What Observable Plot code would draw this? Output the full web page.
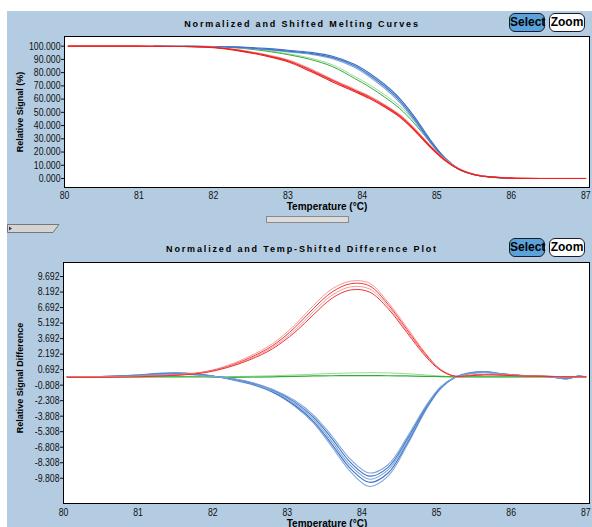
<!DOCTYPE html>
<html><head><meta charset="utf-8">
<script src="https://cdn.jsdelivr.net/npm/d3@7"></script>
<script src="https://cdn.jsdelivr.net/npm/@observablehq/plot@0.6"></script>
<style>
body{margin:0;background:#fff;}
#root{position:relative;width:592px;height:527px;overflow:hidden;font-family:"Liberation Sans",Arial,sans-serif;}
#bg{position:absolute;left:7px;top:11px;right:0;bottom:0;background:#b4cce2;}
.title{position:absolute;font-weight:bold;font-size:9px;letter-spacing:1.85px;white-space:nowrap;transform:translate(-50%,-50%);color:#000;line-height:10px;}
.btn{position:absolute;width:34px;height:17px;border:1px solid #1a1a2a;border-radius:6px;font-weight:bold;font-size:12px;line-height:17px;text-align:center;color:#000;}
.xlab{position:absolute;font-weight:bold;font-size:10px;line-height:10px;transform:translate(-50%,-50%);white-space:nowrap;color:#000;}
.ylab{position:absolute;font-weight:bold;font-size:9px;line-height:10px;transform:translate(-50%,-50%) rotate(-90deg);white-space:nowrap;color:#000;}
.plot{position:absolute;left:0;}
</style></head>
<body>
<div id="root">
  <div id="bg"></div>
  <div class="title" style="left:302px;top:24px;">Normalized and Shifted Melting Curves</div>
  <div class="btn" style="left:509px;top:13px;background:#5aa2dc;">Select</div>
  <div class="btn" style="left:549px;top:13px;background:#fff;">Zoom</div>
  <div id="top" class="plot" style="top:0px;"></div>
  <div class="ylab" style="left:20px;top:112px;">Relative Signal (%)</div>
  <div class="xlab" style="left:327px;top:207px;">Temperature (°C)</div>
  <div style="position:absolute;left:266px;top:216px;width:81px;height:5px;background:#dcdcdc;border:1px solid #8a8a8a;"></div>
  <svg style="position:absolute;left:7px;top:224px;" width="53" height="10"><polygon points="0.5,0.5 52,0.5 46,8.5 0.5,8.5" fill="#d4d4d4" stroke="#777"/><polygon points="2,2.5 5,4.5 2,6.5" fill="#335"/></svg>
  <div class="title" style="left:302px;top:249px;">Normalized and Temp-Shifted Difference Plot</div>
  <div class="btn" style="left:509px;top:238px;background:#5aa2dc;">Select</div>
  <div class="btn" style="left:549px;top:238px;background:#fff;">Zoom</div>
  <div id="bottom" class="plot" style="top:230px;"></div>
  <div class="ylab" style="left:20px;top:378px;">Relative Signal Difference</div>
  <div class="xlab" style="left:327px;top:523.5px;">Temperature (°C)</div>
</div>
<script>
// ---------- data: top panel (Relative Signal %) ----------
const xTicks = [80, 81, 82, 83, 84, 85, 86, 87];
const topYTicks = [0, 10, 20, 30, 40, 50, 60, 70, 80, 90, 100];

const topTRed = [80.05, 81.0, 81.6, 82.0, 82.3, 82.7, 83.0, 83.3, 83.6, 83.9, 84.1, 84.3, 84.5, 84.7, 84.9, 85.1, 85.3, 85.5, 85.7, 86.0, 86.5, 87.0];
const topRed1 = [100, 100, 99.8, 99.2, 97.2, 93.2, 89, 82, 74, 66.5, 61.3, 55, 47.5, 37, 25, 14.5, 7, 3, 1.3, 0.3, 0, 0];
const topRed2 = [100, 100, 99.7, 98.9, 96.8, 92.6, 88.2, 81, 73, 65.6, 60.4, 54, 46.6, 36.2, 24.3, 14, 6.8, 2.9, 1.2, 0.3, 0, 0];
const topRed3 = [100, 100, 99.8, 99.3, 97.5, 93.6, 89.6, 82.8, 74.8, 67.3, 62.1, 55.8, 48.3, 37.8, 25.6, 15, 7.3, 3.1, 1.4, 0.4, 0.1, 0.1];

const topTBlue = [81.2, 81.6, 82.0, 82.3, 82.7, 83.0, 83.3, 83.6, 83.9, 84.1, 84.3, 84.5, 84.7, 84.9, 85.1, 85.3, 85.5, 85.7, 86.0];
const topBlue1 = [100, 99.9, 99.6, 99.2, 97.8, 96.3, 94.6, 91.5, 85, 78, 69.5, 59, 45, 29, 15.5, 7, 3, 1.3, 0.3];
const topBlue2 = [100, 99.9, 99.7, 99.4, 98.3, 96.9, 95.3, 92.4, 86.2, 79.4, 71, 60.6, 46.6, 30.2, 16.2, 7.3, 3.1, 1.3, 0.3];
const topBlue3 = [100, 99.8, 99.4, 98.9, 97.3, 95.7, 93.9, 90.6, 83.9, 76.7, 68.1, 57.5, 43.6, 28, 15, 6.8, 2.9, 1.2, 0.3];

const topTGreen = [81.6, 82.0, 82.3, 82.7, 83.0, 83.3, 83.6, 83.9, 84.1, 84.3, 84.5, 84.7, 84.9, 85.1, 85.3, 85.5, 85.7, 86.0];
const topGreen1 = [100, 99.5, 98.8, 96.3, 93.6, 90, 84.5, 75.5, 69, 61.5, 53, 41.5, 28, 15.5, 7, 3, 1.3, 0.3];
const topGreen2 = [100, 99.6, 99.0, 96.8, 94.3, 91, 85.8, 77, 70.6, 63.2, 54.8, 43.2, 29.2, 16, 7.2, 3.1, 1.3, 0.3];

// ---------- data: bottom panel (Relative Signal Difference) ----------
const diffYTicks = [9.692, 8.192, 6.692, 5.192, 3.692, 2.192, 0.692, -0.808, -2.308, -3.808, -5.308, -6.808, -8.308, -9.808];
const diffT = [80.05, 80.5, 81.0, 81.3, 81.6, 81.9, 82.2, 82.5, 82.8, 83.1, 83.35, 83.6, 83.85, 84.1, 84.35, 84.6, 84.85, 85.05, 85.25, 85.45, 85.65, 85.9, 86.2, 86.5, 86.75, 86.9, 87.0];

const diffRed1 = [0, 0, 0.05, 0.12, 0.25, 0.5, 1.1, 2.0, 3.2, 5.0, 6.9, 8.5, 9.25, 9.05, 7.2, 4.8, 2.3, 0.75, 0.05, 0.15, 0.25, 0.2, 0.1, 0.05, 0, 0.02, 0];
const diffRed2 = [0, 0, 0.05, 0.1, 0.22, 0.47, 1.0, 1.85, 3.0, 4.75, 6.6, 8.2, 9.0, 8.8, 7.0, 4.6, 2.2, 0.7, 0.05, 0.15, 0.22, 0.18, 0.1, 0.05, 0, 0.02, 0];
const diffRed3 = [0, 0, 0.04, 0.1, 0.2, 0.44, 0.95, 1.75, 2.85, 4.5, 6.3, 7.9, 8.7, 8.5, 6.8, 4.45, 2.1, 0.68, 0.05, 0.12, 0.2, 0.17, 0.08, 0.04, 0, 0, 0];
const diffRed4 = [-0.05, -0.05, 0, 0.08, 0.18, 0.4, 0.9, 1.65, 2.7, 4.3, 6.0, 7.6, 8.4, 8.2, 6.6, 4.3, 2.0, 0.65, 0.05, 0.1, 0.18, 0.15, 0.06, 0.03, 0, 0, 0];

const diffBlue1 = [0, 0.02, 0.18, 0.35, 0.38, 0.2, -0.2, -0.7, -1.5, -2.85, -4.45, -6.8, -9.2, -10.6, -9.6, -6.7, -3.3, -1.2, -0.05, 0.4, 0.5, 0.28, 0.12, 0.03, -0.2, 0.08, 0];
const diffBlue2 = [0, 0.02, 0.16, 0.32, 0.34, 0.18, -0.17, -0.65, -1.45, -2.75, -4.3, -6.55, -8.9, -10.2, -9.3, -6.5, -3.2, -1.15, -0.05, 0.37, 0.48, 0.26, 0.11, 0.02, -0.18, 0.06, 0];
const diffBlue3 = [0, 0.02, 0.15, 0.3, 0.3, 0.15, -0.15, -0.6, -1.35, -2.6, -4.1, -6.3, -8.6, -9.9, -9.0, -6.3, -3.1, -1.1, -0.05, 0.35, 0.45, 0.25, 0.1, 0.02, -0.18, 0.05, 0];
const diffBlue4 = [0, 0.01, 0.12, 0.26, 0.27, 0.12, -0.12, -0.55, -1.25, -2.45, -3.9, -6.0, -8.3, -9.6, -8.75, -6.1, -3.0, -1.05, -0.05, 0.32, 0.42, 0.23, 0.09, 0.01, -0.15, 0.04, 0];
const diffBlue5 = [0, 0, 0.1, 0.22, 0.24, 0.1, -0.1, -0.5, -1.2, -2.3, -3.7, -5.75, -8.0, -9.3, -8.5, -5.9, -2.9, -1.0, -0.05, 0.3, 0.4, 0.22, 0.08, 0.01, -0.12, 0.03, 0];

const diffGreen1 = [0, 0, 0, 0, 0, -0.02, -0.05, -0.03, 0, 0.05, 0.08, 0.1, 0.12, 0.12, 0.1, 0.08, 0.05, 0.02, 0, 0, 0, 0, 0, 0, 0, 0, 0];
const diffGreen2 = [0, 0, 0, 0.02, 0.03, 0.03, 0.02, 0.05, 0.1, 0.18, 0.25, 0.32, 0.37, 0.4, 0.38, 0.3, 0.18, 0.08, 0, 0, 0, 0, 0, 0, 0, 0, 0];

// ---------- colours ----------
const BLUE = "#3f74c4", BLUE_L = "#7fa6dc", RED = "#ee2020", RED_L = "#f49a9a", GREEN = "#2fae3a", GREEN_L = "#9ad892";

const rows = (T, V) => T.map((t, i) => ({T: t, v: V[i]}));
const curve = "catmull-rom";
const ln = (T, V, stroke, w = 1) => Plot.line(rows(T, V), {x: "T", y: "v", stroke, strokeWidth: w, curve});

const style = {fontFamily: "'Liberation Sans',Arial,sans-serif", fontSize: "10.5px", background: "transparent", color: "#111", overflow: "visible"};

// narrow the tick labels (the original uses a condensed face)
function condense(svg, f) {
  svg.querySelectorAll("text").forEach(t => {
    const L = t.getComputedTextLength();
    if (L > 0) { t.setAttribute("textLength", (L * f).toFixed(2)); t.setAttribute("lengthAdjust", "spacingAndGlyphs"); }
  });
}

const topPlot = Plot.plot({
  width: 592, height: 220,
  marginLeft: 64, marginRight: 3, marginTop: 36, marginBottom: 33,
  style,
  x: {domain: [80, 87.05], ticks: xTicks, tickFormat: d => String(d), tickSize: 0, tickPadding: 4, label: null},
  y: {domain: [-6.8, 107.3], ticks: topYTicks, tickFormat: d => d.toFixed(3), tickSize: 3, tickPadding: 1, label: null},
  marks: [
    Plot.frame({fill: "white", stroke: null}),
    ln(topTGreen, topGreen2, GREEN_L, 1),
    ln(topTGreen, topGreen1, GREEN, 1),
    ln(topTBlue, topBlue3, BLUE_L, 1.2),
    ln(topTBlue, topBlue2, BLUE, 1.2),
    ln(topTBlue, topBlue1, BLUE, 1.2),
    ln(topTRed, topRed3, RED_L, 1.2),
    ln(topTRed, topRed2, RED, 1.1),
    ln(topTRed, topRed1, RED, 1.1),
    Plot.frame({stroke: "#000"})
  ]
});
document.getElementById("top").appendChild(topPlot);
condense(topPlot, 0.83);

const bottomPlot = Plot.plot({
  width: 592, height: 297,
  marginLeft: 63, marginRight: 3, marginTop: 32, marginBottom: 24,
  style,
  x: {domain: [80, 87.05], ticks: xTicks, tickFormat: d => String(d), tickSize: 0, tickPadding: 5, label: null},
  y: {domain: [-12.25, 11.05], ticks: diffYTicks, tickFormat: d => d.toFixed(3), tickSize: 3, tickPadding: 1, label: null},
  marks: [
    Plot.frame({fill: "white", stroke: null}),
    ln(diffT, diffGreen2, GREEN_L, 1),
    ln(diffT, diffGreen1, GREEN, 1.2),
    ln(diffT, diffBlue1, BLUE_L, 1.1),
    ln(diffT, diffBlue2, BLUE, 1.1),
    ln(diffT, diffBlue3, BLUE_L, 1.1),
    ln(diffT, diffBlue4, BLUE, 1.1),
    ln(diffT, diffBlue5, BLUE_L, 1.1),
    ln(diffT, diffRed1, RED_L, 1),
    ln(diffT, diffRed2, RED, 0.9),
    ln(diffT, diffRed3, RED_L, 1),
    ln(diffT, diffRed4, RED, 0.9),
    Plot.frame({stroke: "#000"})
  ]
});
document.getElementById("bottom").appendChild(bottomPlot);
condense(bottomPlot, 0.83);
</script>
</body></html>
